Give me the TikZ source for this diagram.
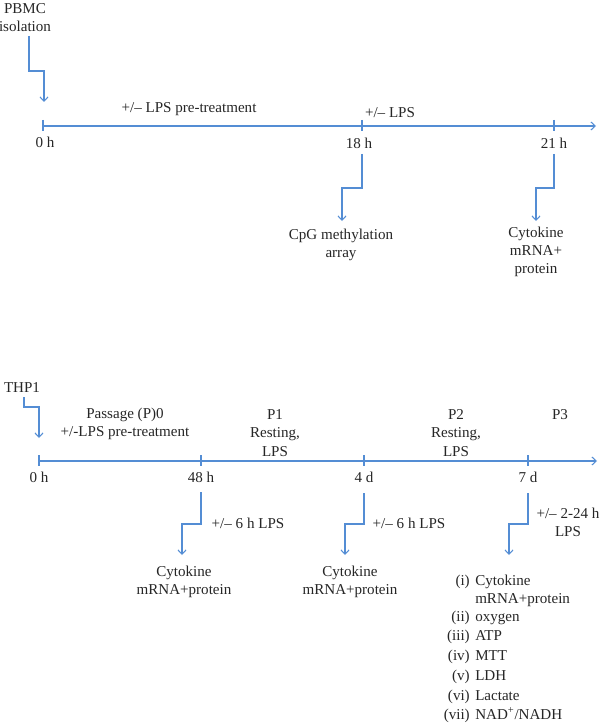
\documentclass[tikz,border=0pt]{standalone}
\usepackage{fontspec}
\setmainfont{Liberation Serif}
\usetikzlibrary{arrows.meta,calc}
\definecolor{tlblue}{RGB}{84,141,212}
\begin{document}
\begin{tikzpicture}[x=0.75pt,y=-0.75pt,
  lbl/.style={font=\fontsize{11.3}{13.6}\selectfont, inner sep=0pt, align=center, text=black!85},
  arr/.style={draw=tlblue, line width=0.8pt, -{Straight Barb[length=3.2pt,width=6pt]}},
  tick/.style={draw=tlblue, line width=0.8pt}]
\useasboundingbox (0,0) rectangle (600,727);

% ---------------- PBMC timeline ----------------
\node[lbl] (pbmc) at (25,18) {PBMC\\isolation};
\coordinate (a0) at (43,126);
\coordinate (a18) at (362,126);
\coordinate (a21) at (554,126);
\coordinate (aend) at (596,126);
\draw[arr] (a0) -- (aend);
\draw[tick] ($(a0)+(0,-6)$) -- ($(a0)+(0,5)$);
\draw[tick] ($(a18)+(0,-6)$) -- ($(a18)+(0,5)$);
\draw[tick] ($(a21)+(0,-6)$) -- ($(a21)+(0,5)$);

\node[lbl] (t0) at (45,142) {0 h};
\node[lbl] (t18) at (359,143) {18 h};
\node[lbl] (t21) at (554,143) {21 h};
\node[lbl] (pre) at (189,109) {+/– LPS pre-treatment};
\node[lbl] (lps) at (390,113) {+/– LPS};

\coordinate (pbs) at (29,36);
\coordinate (pbe) at (44,102);
\draw[arr] (pbs) -- (29,71) -| (pbe);

\node[lbl] (cpg) at (341,245) {CpG methylation\\array};
\node[lbl] (cyt1) at (536,252) {Cytokine\\mRNA+\\protein};
\coordinate (s18) at (362,154);
\coordinate (e18) at (342,221);
\draw[arr] (s18) -- (362,188) -| (e18);
\coordinate (s21) at (554,154);
\coordinate (e21) at (536,221);
\draw[arr] (s21) -- (554,188) -| (e21);

% ---------------- THP1 timeline ----------------
\node[lbl] (thp) at (22,388) {THP1};
\coordinate (ts) at (24,397);
\coordinate (te) at (39,438);
\draw[arr] (ts) -- (24,407) -| (te);

\coordinate (b0) at (39,461);
\coordinate (b48) at (201,461);
\coordinate (b4) at (364,461);
\coordinate (b7) at (528,461);
\coordinate (bend) at (597,461);
\draw[arr] (b0) -- (bend);
\draw[tick] ($(b0)+(0,-6)$) -- ($(b0)+(0,5)$);
\draw[tick] ($(b48)+(0,-6)$) -- ($(b48)+(0,5)$);
\draw[tick] ($(b4)+(0,-6)$) -- ($(b4)+(0,5)$);
\draw[tick] ($(b7)+(0,-6)$) -- ($(b7)+(0,5)$);

\node[lbl] (u0) at (39,477) {0 h};
\node[lbl] (u48) at (201,477) {48 h};
\node[lbl] (u4) at (364,477) {4 d};
\node[lbl] (u7) at (528,477) {7 d};

\node[lbl] (p0) at (125,424) {Passage (P)0\\+/-LPS pre-treatment};
\node[lbl] (p1) at (275,433) {P1\\Resting,\\LPS};
\node[lbl] (p2) at (456,433) {P2\\Resting,\\LPS};
\node[lbl] (p3) at (560,415) {P3};

\coordinate (s48) at (201,492);
\coordinate (e48) at (182,555);
\draw[arr] (s48) -- (201,524) -| (e48);
\node[lbl] (l48) at (248,523) {+/– 6 h LPS};
\node[lbl] (c48) at (184,582) {Cytokine\\mRNA+protein};

\coordinate (s4) at (364,493);
\coordinate (e4) at (345,555);
\draw[arr] (s4) -- (364,524) -| (e4);
\node[lbl] (l4) at (409,523) {+/– 6 h LPS};
\node[lbl] (c4) at (350,582) {Cytokine\\mRNA+protein};

\coordinate (s7) at (528,493);
\coordinate (e7) at (509,555);
\draw[arr] (s7) -- (528,524) -| (e7);
\node[lbl] (l7) at (568,522) {+/– 2-24 h\\LPS};

% result list
\foreach \n/\num/\txt/\yy in {i/(i)/Cytokine/582, ii/(ii)/oxygen/618, iii/(iii)/ATP/637, iv/(iv)/MTT/657, v/(v)/LDH/677, vi/(vi)/Lactate/697, vii/(vii)/{NAD\textsuperscript{+}/NADH}/716}{
  \node[lbl, anchor=mid east] (num\n) at (470,\yy) {\num};
  \node[lbl, anchor=mid west] (item\n) at (475,\yy) {\txt};
}
\node[lbl, anchor=mid west] (itemib) at (475,600) {mRNA+protein};
\end{tikzpicture}
\end{document}
